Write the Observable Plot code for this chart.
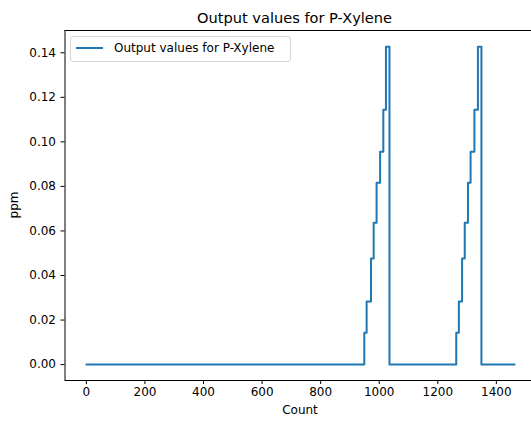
<!DOCTYPE html>
<html>
<head>
<meta charset="utf-8">
<script src="https://cdn.jsdelivr.net/npm/d3@7"></script>
<script src="https://cdn.jsdelivr.net/npm/@observablehq/plot@0.6"></script>
<style>
  html, body { margin: 0; padding: 0; background: #fff; }
  #wrap { position: relative; width: 531px; height: 421px; font-family: "DejaVu Sans", sans-serif; color: #000; overflow: hidden; }
  .abs { position: absolute; white-space: nowrap; }
  #title { font-size: 14.6px; top: 9px; left: 294.5px; transform: translateX(-50%); }
  #xlabel { font-size: 12px; top: 403px; left: 300px; transform: translateX(-50%); }
  #ylabel { font-size: 12px; left: 14px; top: 205px; transform: translate(-50%, -50%) rotate(-90deg); }
  #legend { left: 70px; top: 36px; width: 219px; height: 24px; border: 1px solid #d6d6d6; border-radius: 3px; background: rgba(255,255,255,0.8); font-size: 12px; }
  #legend .swatch { position: absolute; left: 5px; top: 10px; width: 27px; height: 0; border-top: 2px solid #1f77b4; }
  #legend .lt { position: absolute; left: 43px; top: 4px; }
</style>
</head>
<body>
<div id="wrap">
  <div id="chart" class="abs" style="left:0;top:0"></div>
  <div id="title" class="abs"></div>
  <div id="xlabel" class="abs"></div>
  <div id="ylabel" class="abs"></div>
  <div id="legend" class="abs"><div class="swatch"></div><div class="lt"></div></div>
</div>
<script>
const titleText = "Output values for P-Xylene";
const xLabelText = "Count";
const yLabelText = "ppm";
const seriesName = "Output values for P-Xylene";

const counts = [0, 949, 957, 972, 981, 991, 1003, 1014, 1023, 1035, 1263, 1272, 1283, 1292, 1303, 1312, 1325, 1337, 1349, 1462];
const ppm    = [0, 0.0143, 0.0283, 0.0476, 0.0637, 0.0817, 0.0956, 0.1144, 0.1427, 0, 0.0143, 0.0283, 0.0476, 0.0637, 0.0817, 0.0956, 0.1144, 0.1427, 0, 0];

const xTicks = [0, 200, 400, 600, 800, 1000, 1200, 1400];
const yTicks = [0, 0.02, 0.04, 0.06, 0.08, 0.10, 0.12, 0.14];

const data = counts.map((c, i) => ({count: c, value: ppm[i]}));

const xDomain = [-73, 1520];
const yDomain = [-0.00714, 0.15];

const chart = Plot.plot({
  width: 531,
  height: 421,
  marginLeft: 64.5,
  marginRight: 0,
  marginTop: 30,
  marginBottom: 41,
  style: {fontFamily: "DejaVu Sans, sans-serif", fontSize: "12px", color: "#000", background: "transparent"},
  x: {domain: xDomain},
  y: {domain: yDomain},
  marks: [
    Plot.axisX({ticks: xTicks, tickSize: 4, tickPadding: 3, tickFormat: d => String(d), label: null, stroke: "#000", fill: "#000", fontSize: 12}),
    Plot.axisY({ticks: yTicks, tickSize: 4, tickPadding: 5, tickFormat: d => d.toFixed(2), label: null, stroke: "#000", fill: "#000", fontSize: 12}),
    Plot.ruleX([xDomain[0]], {stroke: "#000", strokeWidth: 1}),
    Plot.ruleY([yDomain[0]], {stroke: "#000", strokeWidth: 1}),
    Plot.ruleY([yDomain[1]], {stroke: "#000", strokeWidth: 1}),
    Plot.line(data, {x: "count", y: "value", curve: "step-after", stroke: "#1f77b4", strokeWidth: 2})
  ]
});
document.getElementById("chart").appendChild(chart);
document.getElementById("title").textContent = titleText;
document.getElementById("xlabel").textContent = xLabelText;
document.getElementById("ylabel").textContent = yLabelText;
document.querySelector("#legend .lt").textContent = seriesName;
</script>
</body>
</html>
